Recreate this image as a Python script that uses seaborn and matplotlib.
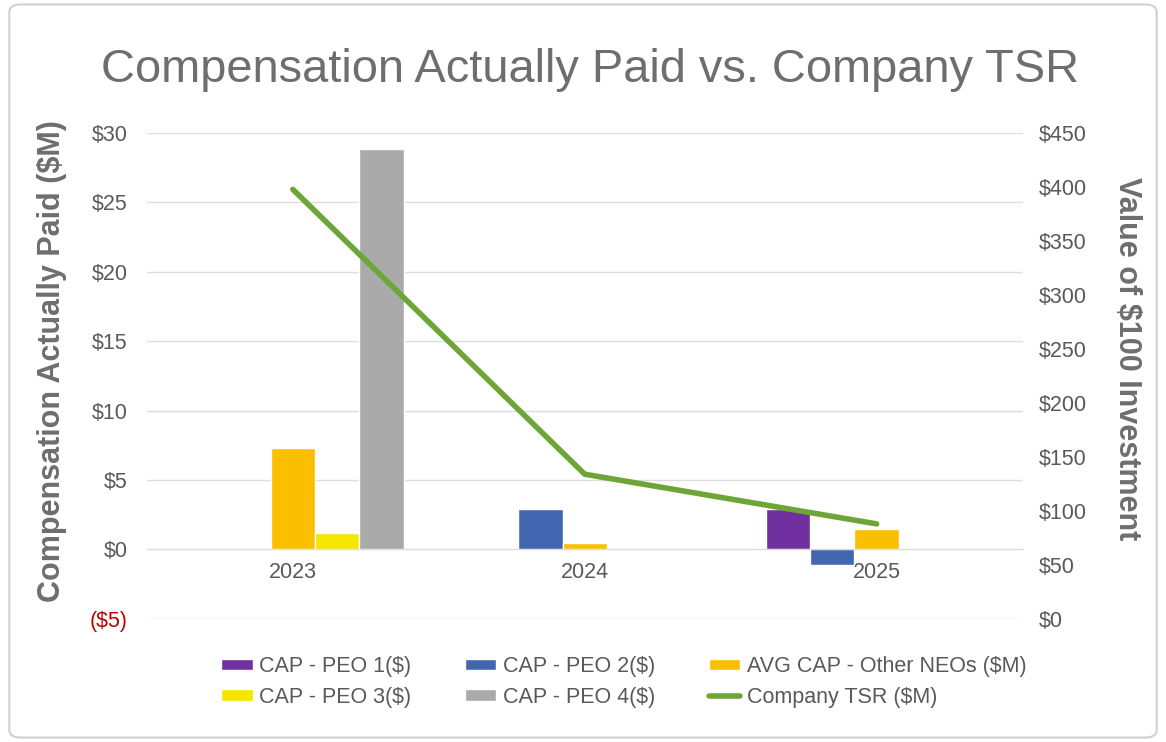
import numpy as np
import pandas as pd
import matplotlib
matplotlib.use("Agg")
import matplotlib.pyplot as plt
from matplotlib.patches import FancyBboxPatch
import seaborn as sns

# data
years = ["2023", "2024", "2025"]
peo1 = [np.nan, np.nan, 2.9]
peo2 = [np.nan, 2.88, -1.1]
avg_neo = [7.3, 0.45, 1.48]
peo3 = [1.2, np.nan, np.nan]
peo4 = [28.83, np.nan, np.nan]
tsr = [397.6, 133.9, 87.9]

series = ["CAP - PEO 1($)", "CAP - PEO 2($)", "AVG CAP - Other NEOs ($M)",
          "CAP - PEO 3($)", "CAP - PEO 4($)"]
colors = ["#7030A0", "#4267B0", "#FAC000", "#F5E600", "#ABAAAB"]
tsr_label = "Company TSR ($M)"

left_ticks = [-5, 0, 5, 10, 15, 20, 25, 30]
right_ticks = [0, 50, 100, 150, 200, 250, 300, 350, 400, 450]

# long table for seaborn
rows = []
for name, vals in zip(series, [peo1, peo2, avg_neo, peo3, peo4]):
    for yr, v in zip(years, vals):
        rows.append({"year": yr, "series": name, "value": v})
df = pd.DataFrame(rows)

sns.set_style("white")
plt.rcParams["font.family"] = ["Liberation Sans", "DejaVu Sans"]

txt = "#595959"
lab = "#6E6E6E"
grid = "#DDDDDD"

fig = plt.figure(figsize=(11.66, 7.42), dpi=100)
ax = fig.add_axes([0.126, 0.166, 0.751, 0.655])

sns.barplot(data=df, x="year", y="value", hue="series", hue_order=series,
            order=years, palette=colors, width=0.76, errorbar=None,
            saturation=1, ax=ax)
handles, labels = ax.get_legend_handles_labels()
ax.get_legend().remove()

ax.set_xlim(-0.5, 2.5)
ax.set_ylim(-5, 30)
ax.set_yticks(left_ticks)
ax.set_yticklabels([f"${t}" if t >= 0 else f"(${-t})" for t in left_ticks])
for t, lbl in zip(left_ticks, ax.get_yticklabels()):
    lbl.set_color("#C00000" if t < 0 else txt)
ax.grid(axis="y", color=grid, lw=1)
ax.set_axisbelow(True)
for s in ["top", "left", "right"]:
    ax.spines[s].set_visible(False)
ax.spines["bottom"].set_position(("data", 0))
ax.spines["bottom"].set_color(grid)
ax.tick_params(axis="y", length=0, pad=14, labelsize=15.5)
ax.tick_params(axis="x", length=0, pad=9, labelsize=15.5, labelcolor=txt)
ax.set_xlabel("")
ax.set_ylabel("Compensation Actually Paid ($M)", fontsize=22, fontweight="bold",
              color=lab, labelpad=16)
ax.yaxis.label.set_y(0.53)

ax2 = ax.twinx()
sns.lineplot(x=np.arange(len(years)), y=tsr, color="#6CA636", lw=4,
             solid_capstyle="round", ax=ax2, label=tsr_label)
h2, l2 = ax2.get_legend_handles_labels()
ax2.get_legend().remove()
ax2.set_ylim(0, 450)
ax2.set_yticks(right_ticks)
ax2.set_yticklabels([f"${t}" for t in right_ticks])
ax2.tick_params(axis="y", length=0, pad=12, labelsize=15.5, labelcolor=txt)
for s in ["top", "left", "right", "bottom"]:
    ax2.spines[s].set_visible(False)
ax2.set_ylabel("Value of $100 Investment", fontsize=22, fontweight="bold",
               color=lab, rotation=270, labelpad=39)
ax2.yaxis.label.set_y(0.535)

fig.text(0.506, 0.905, "Compensation Actually Paid vs. Company TSR",
         ha="center", va="center", fontsize=33.8, color=lab)

# legend: 2 rows x 3 columns, filled column-wise
hs = handles + h2
ls = labels + l2
order = [0, 3, 1, 4, 2, 5]
fig.legend([hs[i] for i in order], [ls[i] for i in order], ncol=3,
           loc="center", bbox_to_anchor=(0.535, 0.081), frameon=False,
           fontsize=15.5, labelcolor=txt, handlelength=1.45, handleheight=0.45,
           handletextpad=0.3, columnspacing=2.5, labelspacing=0.45)

fig.patches.append(FancyBboxPatch((0.008, 0.006), 0.984, 0.988,
                                  boxstyle="round,pad=0,rounding_size=0.01",
                                  transform=fig.transFigure, fill=False,
                                  edgecolor="#D0D0D0", lw=1.5))

fig.savefig("out.png", dpi=100)
